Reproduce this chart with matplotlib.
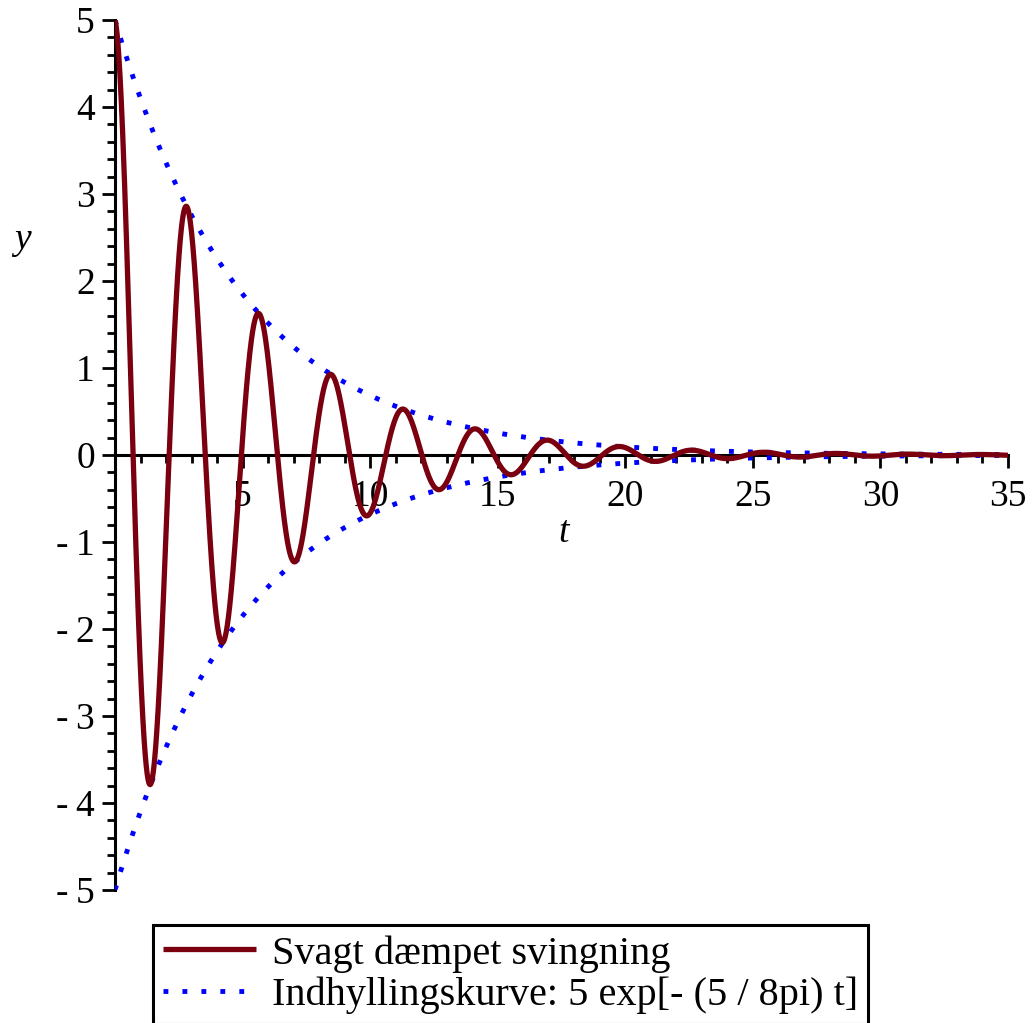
import numpy as np
import matplotlib
matplotlib.use("Agg")
import matplotlib.pyplot as plt
from matplotlib.ticker import MultipleLocator, FixedLocator

amplitude = 5.0                     # starting value y(0)
decay_rate = 5.0 / (8.0 * np.pi)    # from legend: 5 exp[-(5/8pi) t]
period = 2.83                       # distance between successive peaks
t_range = [0.0, 35.0]
y_range = [-5.0, 5.0]
x_ticks = [5, 10, 15, 20, 25, 30, 35]
x_ticklabels = ["5", "10", "15", "20", "25", "30", "35"]
y_ticks = [-5, -4, -3, -2, -1, 0, 1, 2, 3, 4, 5]
y_ticklabels = ["-\u20095", "-\u20094", "-\u20093", "-\u20092", "-\u20091",
                "0", "1", "2", "3", "4", "5"]
labels = ["Svagt dæmpet svingning", "Indhyllingskurve: 5 exp[- (5 / 8pi) t]"]

t = np.linspace(t_range[0], t_range[1], 3000)
envelope = amplitude * np.exp(-decay_rate * t)
oscillation = envelope * np.cos(2 * np.pi / period * t)

plt.rcParams['font.family'] = ['Liberation Serif', 'DejaVu Serif']

fig = plt.figure(figsize=(10.32, 10.23), dpi=100)
ax = fig.add_axes([115 / 1032, 1 - 890 / 1023, 893 / 1032, 870 / 1023])

red = '#7A000F'
blue = '#0000FF'
env_line, = ax.plot(t, envelope, color=blue, lw=3.5, ls=(0, (1, 2.9)), zorder=3)
ax.plot(t, -envelope, color=blue, lw=3.5, ls=(0, (1, 2.9)), zorder=3)
osc_line, = ax.plot(t, oscillation, color=red, lw=3.8, zorder=4,
                    solid_capstyle='butt')

ax.set_xlim(*t_range)
ax.set_ylim(*y_range)

for s in ['top', 'right']:
    ax.spines[s].set_visible(False)
ax.spines['bottom'].set_position(('data', 0))
ax.spines['bottom'].set_linewidth(2.2)
ax.spines['left'].set_linewidth(2.2)
ax.spines['bottom'].set_zorder(2)

ax.xaxis.set_major_locator(FixedLocator(x_ticks))
ax.set_xticklabels(x_ticklabels)
ax.xaxis.set_minor_locator(MultipleLocator(1))
ax.yaxis.set_major_locator(FixedLocator(y_ticks))
ax.set_yticklabels(y_ticklabels)
ax.yaxis.set_minor_locator(MultipleLocator(0.2))

ax.tick_params(axis='x', which='major', direction='out', length=9, width=2,
               labelsize=27, pad=9)
ax.tick_params(axis='x', which='minor', direction='out', length=5.5, width=2)
ax.tick_params(axis='y', which='major', direction='out', length=9.5, width=2,
               labelsize=27, pad=5)
ax.tick_params(axis='y', which='minor', direction='out', length=5.5, width=2)
for lab in ax.get_xticklabels() + ax.get_yticklabels():
    lab.set_zorder(1)

fig.text(22 / 1032, 1 - 240 / 1023, 'y', fontsize=27, style='italic',
         ha='center', va='center')
fig.text(564 / 1032, 1 - 533 / 1023, 't', fontsize=27, style='italic',
         ha='center', va='center')

leg = fig.legend([osc_line, env_line], labels,
                 loc='upper left', bbox_to_anchor=(153 / 1032, 1 - 925 / 1023),
                 borderaxespad=0, fontsize=29, frameon=True, fancybox=False,
                 edgecolor='black', framealpha=1, handlelength=2.3,
                 handletextpad=0.4, borderpad=0.25, labelspacing=0.1)
leg.get_frame().set_linewidth(2.2)

fig.savefig('out.png', dpi=100)
